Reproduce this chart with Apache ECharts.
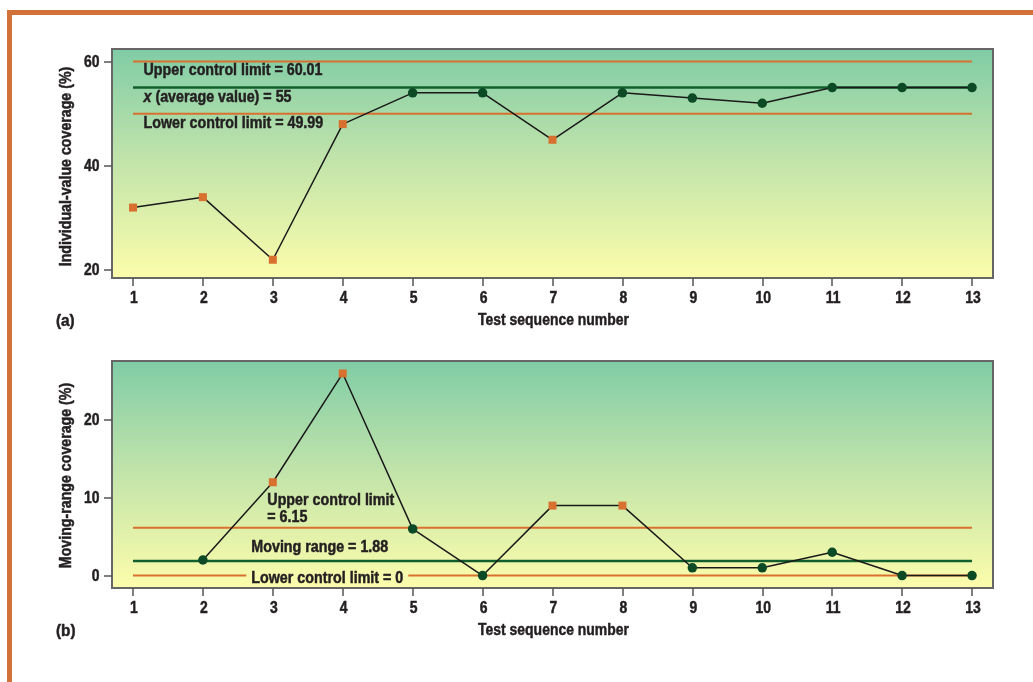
<!DOCTYPE html>
<html><head><meta charset="utf-8">
<script src="https://cdn.jsdelivr.net/npm/echarts@6/dist/echarts.min.js"></script>
<style>html,body{margin:0;padding:0;background:#fff;}#c{width:1033px;height:682px;}</style>
</head><body><div id="c"></div>
<script>
// ---- data ----
const seqTicks = [1,2,3,4,5,6,7,8,9,10,11,12,13];
const individualSeq = [1,2,3,4,5,6,7,8,9,10,11,12,13];
const individualValues = [32,34,22,48,54,54,45,54,53,52,55,55,55];
const individualOut = [1,1,1,1,0,0,1,0,0,0,0,0,0];
const individualTicks = [20,40,60];
const individualLimits = {ucl:60.01, mean:55, lcl:49.99};

const rangeSeq = [2,3,4,5,6,7,8,9,10,11,12,13];
const rangeValues = [2,12,26,6,0,9,9,1,1,3,0,0];
const rangeOut = [0,1,1,0,0,1,1,0,0,0,0,0];
const rangeTicks = [0,10,20];
const rangeLimits = {ucl:6.15, mean:1.88, lcl:0};

const labelsA = ['Upper control limit = 60.01', ' (average value) = 55', 'Lower control limit = 49.99'];
const labelsB = ['Upper control limit', '= 6.15', 'Moving range = 1.88', 'Lower control limit = 0'];
const xName = 'Test sequence number';
const yNames = ['Individual-value coverage (%)', 'Moving-range coverage (%)'];
const panelTags = ['(a)', '(b)'];

// ---- style ----
const FAM = "'Liberation Sans','Arial',sans-serif";
const FONT = "bold 17px " + FAM;
const SX = 0.82;
const TXT = '#231f20';
const ORANGE = '#d8712f';
const GREEN = '#0b4a24';
const MEANC = '#125f2d';

const chart = echarts.init(document.getElementById('c'), null, {renderer:'canvas'});

function bg(){
  return new echarts.graphic.LinearGradient(0,0,0,1,[
    {offset:0,color:'#7fcca6'},
    {offset:0.45,color:'#bde2aa'},
    {offset:1,color:'#fdfdab'}
  ]);
}
function ctrlLine(idx, y, color, width){
  return {
    type:'line', xAxisIndex:idx, yAxisIndex:idx, silent:true, z:2,
    symbol:'none', lineStyle:{color, width},
    data:[[1,y],[13,y]], animation:false
  };
}
function dataLine(idx, xs, ys, out){
  return {
    type:'line', xAxisIndex:idx, yAxisIndex:idx, silent:true, z:5,
    lineStyle:{color:'#1a1a1a', width:1.5},
    data: xs.map((x,i)=>({
      value:[x, ys[i]],
      symbol: out[i] ? 'rect' : 'circle',
      symbolSize: out[i] ? 8 : 9.5,
      itemStyle:{color: out[i] ? ORANGE : GREEN}
    })),
    animation:false
  };
}
function xAxis(idx){
  return {
    type:'value', gridIndex:idx, min:0.7, max:13.3,
    axisLine:{show:false, onZero:false}, splitLine:{show:false},
    axisTick:{show:true, customValues:seqTicks, length:8, lineStyle:{color:'#555', width:1.5}},
    axisLabel:{show:false}
  };
}
function yAxis(idx, min, max, ticks){
  return {
    type:'value', gridIndex:idx, min, max,
    axisLine:{show:false, onZero:false}, splitLine:{show:false},
    axisTick:{show:true, customValues:ticks, length:8, lineStyle:{color:'#555', width:1.5}},
    axisLabel:{show:false}
  };
}

const grids = [
  {left:112, top:49, right:40, height:229},
  {left:112, top:361, right:40, height:227}
];

const option = {
  backgroundColor:'#fff',
  animation:false,
  grid: grids.map(g => Object.assign({show:true, backgroundColor:bg(), borderColor:'#666', borderWidth:2}, g)),
  xAxis:[xAxis(0), xAxis(1)],
  yAxis:[
    yAxis(0, 18.5, 62.4, individualTicks),
    yAxis(1, -1.6, 27.6, rangeTicks)
  ],
  series:[
    ctrlLine(0, individualLimits.ucl, ORANGE, 2),
    ctrlLine(0, individualLimits.mean, MEANC, 2.5),
    ctrlLine(0, individualLimits.lcl, ORANGE, 2),
    dataLine(0, individualSeq, individualValues, individualOut),
    ctrlLine(1, rangeLimits.ucl, ORANGE, 2),
    ctrlLine(1, rangeLimits.mean, MEANC, 2.5),
    ctrlLine(1, rangeLimits.lcl, ORANGE, 2),
    dataLine(1, rangeSeq, rangeValues, rangeOut)
  ]
};
chart.setOption(option);

// ---- text placed through the axes' own scales ----
function px(idx, x, y){ return chart.convertToPixel({gridIndex:idx}, [x, y]); }
function txt(text, x, y, align, opts){
  return Object.assign({
    type:'text', x, y, scaleX:SX, silent:true, z:100,
    style:{text, font:FONT, fill:TXT, stroke:TXT, lineWidth:0.5, align:align||'left', verticalAlign:'middle'}
  }, opts||{});
}
const g = [
  {type:'rect', left:7, top:10, shape:{width:5, height:672}, style:{fill:'#d2713a'}, z:100},
  {type:'rect', left:7, top:10, shape:{width:1026, height:5}, style:{fill:'#d2713a'}, z:100}
];
const yTicksAll = [individualTicks, rangeTicks];
const yRanges = [[18.5,62.4],[-1.6,27.6]];
[0,1].forEach(idx => {
  const bottom = px(idx, 1, yRanges[idx][0])[1];
  const top = px(idx, 1, yRanges[idx][1])[1];
  const left = grids[idx].left;
  seqTicks.forEach(t => {
    const p = px(idx, t, yRanges[idx][0]);
    g.push(txt(String(t), p[0] + 1, bottom + 20.5, 'center'));
  });
  yTicksAll[idx].forEach(t => {
    const p = px(idx, 1, t);
    g.push(txt(String(t), left - 12.5, p[1] + 0.5, 'right'));
  });
  const cx = px(idx, 7, 0)[0];
  g.push(txt(xName, cx + 1, bottom + 42.5, 'center'));
  g.push(txt(yNames[idx], 66, (top + bottom) / 2 + (idx === 0 ? 3 : 1), 'center', {rotation: Math.PI / 2, scaleX: 0.835}));
  g.push(txt(panelTags[idx], 56, bottom + (idx === 0 ? 43 : 43.5), 'left', {scaleX: 0.9}));
});
// panel (a) annotations
const aUcl = px(0, 1, individualLimits.ucl), aMean = px(0, 1, individualLimits.mean), aLcl = px(0, 1, individualLimits.lcl);
g.push(txt(labelsA[0], aUcl[0] + 10.5, aUcl[1] + 8.8, 'left', {scaleX:0.84}));
g.push({
  type:'text', x: aMean[0] + 10.5, y: aMean[1] + 9.6, scaleX:0.84, silent:true, z:100,
  style:{text:'{ix|x}' + labelsA[1], font:FONT, fill:TXT, stroke:TXT, lineWidth:0.5, align:'left', verticalAlign:'middle',
    rich:{ix:{font:"italic bold 17px " + FAM, fill:TXT, stroke:TXT, lineWidth:0.5}}}
});
g.push(txt(labelsA[2], aLcl[0] + 10.5, aLcl[1] + 9.6, 'left', {scaleX:0.84}));
// panel (b) annotations
const bUcl = px(1, 3, rangeLimits.ucl), bMean = px(1, 3, rangeLimits.mean), bLcl = px(1, 3, rangeLimits.lcl);
g.push(txt(labelsB[0], bUcl[0] - 5.5, bUcl[1] - 27, 'left', {scaleX:0.84}));
g.push(txt(labelsB[1], bUcl[0] - 5.5, bUcl[1] - 10.5, 'left', {scaleX:0.84}));
g.push(txt(labelsB[2], bMean[0] - 21.5, bMean[1] - 14, 'left', {scaleX:0.84}));
g.push({type:'rect', x: bLcl[0] - 26.5, y: bLcl[1] - 3, shape:{width:162, height:6}, style:{fill:'#f6f9ad'}, z:99, silent:true});
g.push(txt(labelsB[3], bLcl[0] - 21.5, bLcl[1] + 3, 'left', {scaleX:0.84}));
chart.setOption({graphic: g});
</script>
</body></html>
